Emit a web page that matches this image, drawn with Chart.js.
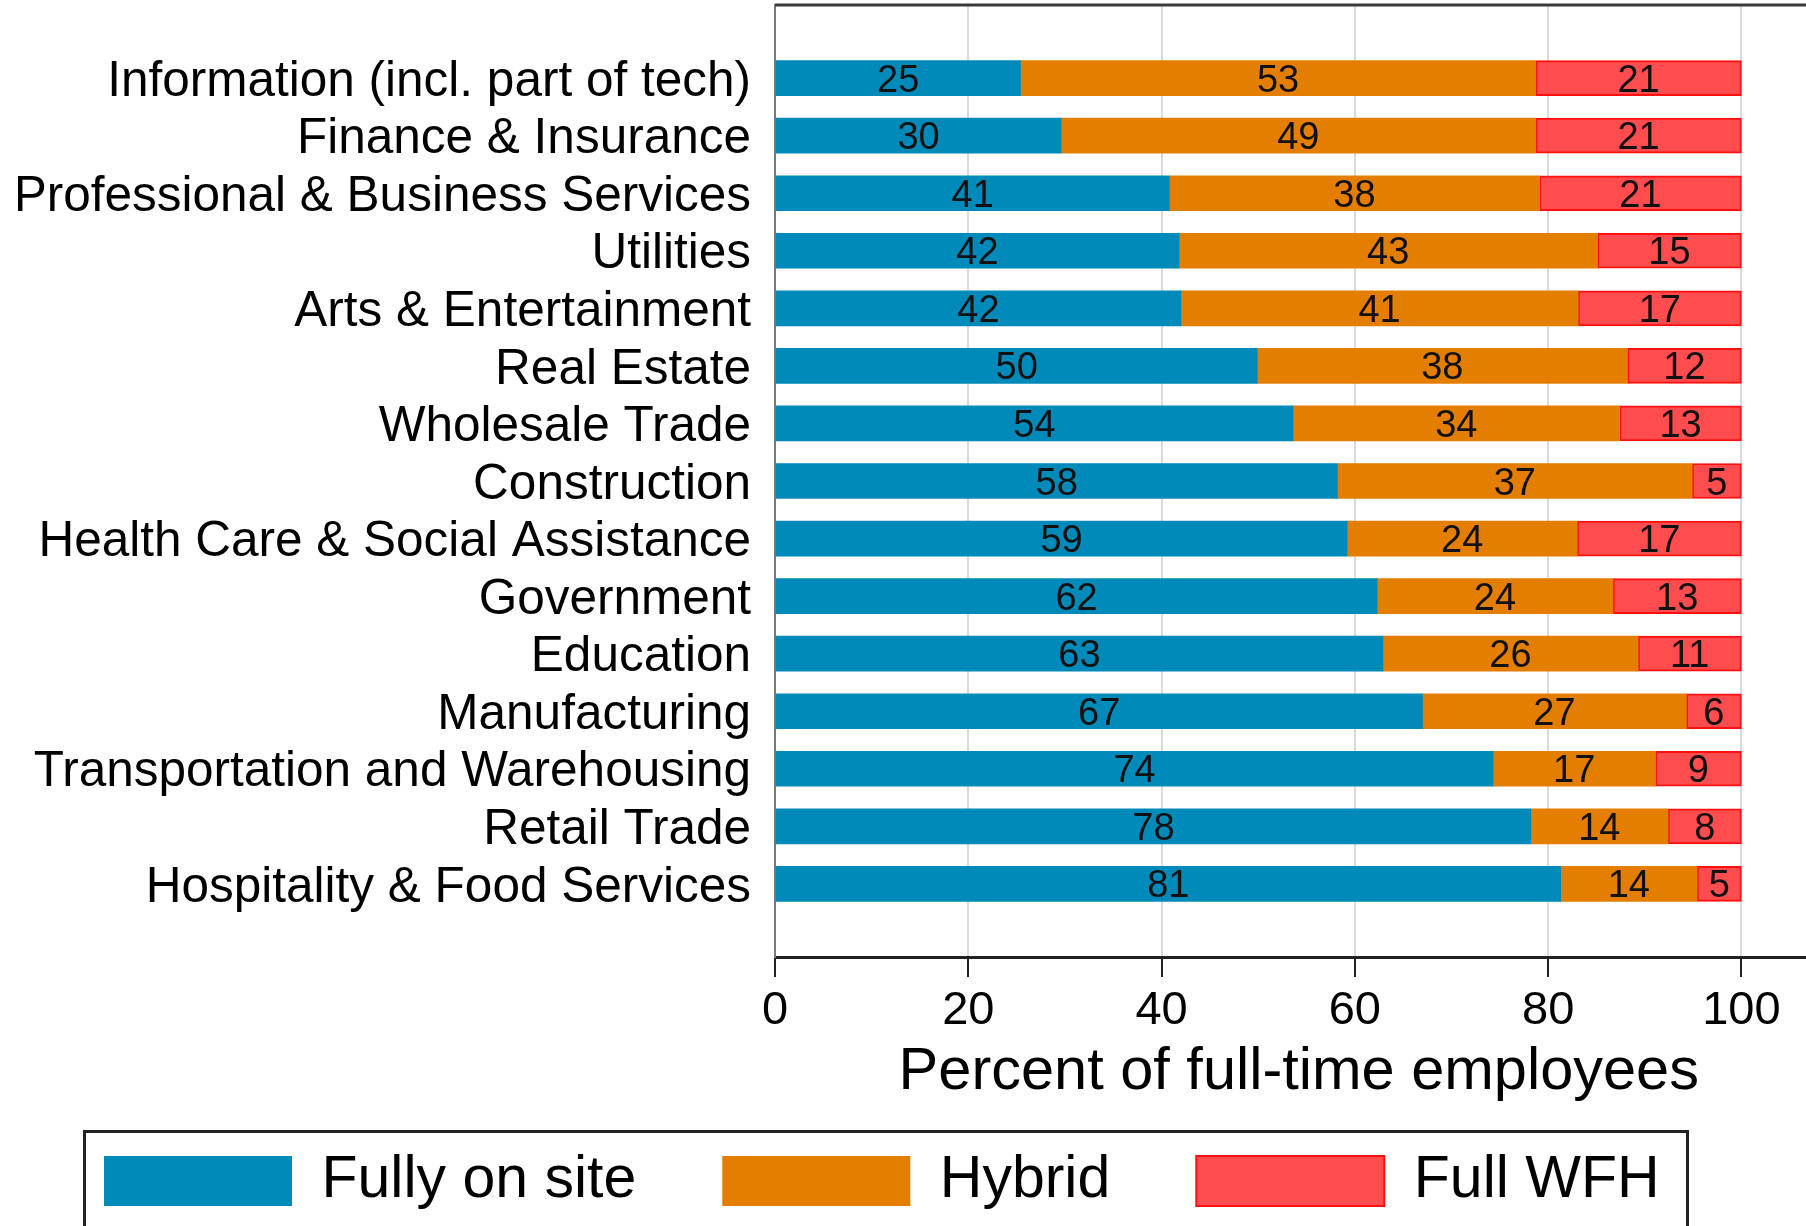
<!DOCTYPE html>
<html>
<head>
<meta charset="utf-8">
<script src="https://cdn.jsdelivr.net/npm/chart.js"></script>
<style>
  html, body { margin: 0; padding: 0; background: #fff; }
  canvas { display: block; }
</style>
</head>
<body>
<canvas id="myChart" width="1806" height="1226"></canvas>
<script>
// Setup
const industries = [
  'Information (incl. part of tech)',
  'Finance & Insurance',
  'Professional & Business Services',
  'Utilities',
  'Arts & Entertainment',
  'Real Estate',
  'Wholesale Trade',
  'Construction',
  'Health Care & Social Assistance',
  'Government',
  'Education',
  'Manufacturing',
  'Transportation and Warehousing',
  'Retail Trade',
  'Hospitality & Food Services',
];

const fullyOnSite = [25.4, 29.6, 40.8, 41.8, 42.0, 49.9, 53.6, 58.2, 59.2, 62.3, 62.9, 67.0, 74.3, 78.2, 81.3];
const hybrid      = [53.3, 49.1, 38.3, 43.3, 41.1, 38.3, 33.8, 36.7, 23.8, 24.4, 26.4, 27.3, 16.8, 14.2, 14.1];
const fullWfh     = [21.3, 21.3, 20.9, 14.9, 16.9, 11.8, 12.6, 5.1, 17.0, 13.3, 10.7, 5.7, 8.9, 7.6, 4.6];

const xTicks = [0, 20, 40, 60, 80, 100];

const FONT = '"Liberation Sans", Arial, Helvetica, sans-serif';

// bars sit on a linear index axis so the empty space above/below matches
const toPoints = (arr) => arr.map((v, i) => ({ x: v, y: i }));

const data = {
  datasets: [{
    label: 'Fully on site',
    data: toPoints(fullyOnSite),
    backgroundColor: 'rgb(0, 138, 186)',
    borderWidth: 0,
  }, {
    label: 'Hybrid',
    data: toPoints(hybrid),
    backgroundColor: 'rgb(227, 126, 0)',
    borderWidth: 0,
  }, {
    label: 'Full WFH',
    data: toPoints(fullWfh),
    backgroundColor: 'rgb(255, 76, 79)',
    borderColor: 'rgb(255, 16, 16)',
    borderWidth: 2,
    borderSkipped: false,
  }]
};

// numbers inside each segment
const segmentLabels = {
  id: 'segmentLabels',
  afterDatasetsDraw(chart) {
    const ctx = chart.ctx;
    ctx.save();
    ctx.font = '38px ' + FONT;
    ctx.fillStyle = '#111';
    ctx.textAlign = 'center';
    ctx.textBaseline = 'alphabetic';
    chart.data.datasets.forEach((ds, d) => {
      chart.getDatasetMeta(d).data.forEach((bar, i) => {
        const cx = (bar.x + bar.base) / 2;
        ctx.fillText(String(Math.round(ds.data[i].x)), cx, bar.y + 13.5);
      });
    });
    ctx.restore();
  }
};

// top frame line and the box round the legend
const frame = {
  id: 'frame',
  afterDraw(chart) {
    const ctx = chart.ctx;
    const area = chart.chartArea;
    ctx.save();
    ctx.strokeStyle = '#3a3a3a';
    ctx.lineWidth = 3;
    ctx.beginPath();
    ctx.moveTo(area.left, area.top);
    ctx.lineTo(chart.width, area.top);
    ctx.stroke();
    ctx.strokeStyle = '#222';
    ctx.lineWidth = 3;
    ctx.strokeRect(84.5, 1131.5, 1603, 200);
    ctx.restore();
  }
};

// Config
const config = {
  type: 'bar',
  data: data,
  options: {
    responsive: false,
    animation: false,
    indexAxis: 'y',
    layout: { padding: { top: 5, left: 18, right: 0, bottom: 5.5 } },
    scales: {
      x: {
        type: 'linear',
        stacked: true,
        min: 0,
        max: 106.68,
        afterBuildTicks: (scale) => { scale.ticks = xTicks.map(v => ({ value: v })); },
        afterFit: (scale) => {
          scale.height = 108.5;
          scale.paddingLeft = 0;
          scale.paddingRight = 0;
        },
        grid: {
          color: '#dadada',
          lineWidth: 2,
          tickColor: '#222',
          tickWidth: 2,
          tickLength: 20,
        },
        border: { color: '#222', width: 3 },
        ticks: {
          color: '#000',
          padding: 6,
          font: { family: FONT, size: 47 },
          callback: (v) => String(v),
        },
        title: {
          display: true,
          text: ' Percent of full-time employees',
          color: '#000',
          font: { family: FONT, size: 59.5, lineHeight: 1 },
          padding: { top: 0, bottom: -37 },
        },
      },
      y: {
        type: 'linear',
        stacked: true,
        reverse: true,
        offset: false,
        min: -1.27,
        max: 15.27,
        afterBuildTicks: (scale) => { scale.ticks = industries.map((c, i) => ({ value: i })); },
        afterFit: (scale) => {
          scale.width = 757;
          scale.paddingTop = 0;
          scale.paddingBottom = 0;
        },
        grid: { display: false, drawTicks: false },
        border: { color: '#7a7a7a', width: 2 },
        ticks: {
          autoSkip: false,
          color: '#000',
          padding: 24,
          labelOffset: 4,
          font: { family: FONT, size: 49.5 },
          callback: (v) => industries[v],
        },
      }
    },
    datasets: {
      bar: { barThickness: 35 }
    },
    plugins: {
      legend: {
        position: 'bottom',
        align: 'start',
        labels: {
          boxWidth: 188,
          boxHeight: 50,
          padding: 86,
          color: '#000',
          font: { family: FONT, size: 59 },
        }
      },
      tooltip: { enabled: false },
    }
  },
  plugins: [segmentLabels, frame]
};

const myChart = new Chart(
  document.getElementById('myChart'),
  config
);
</script>
</body>
</html>
